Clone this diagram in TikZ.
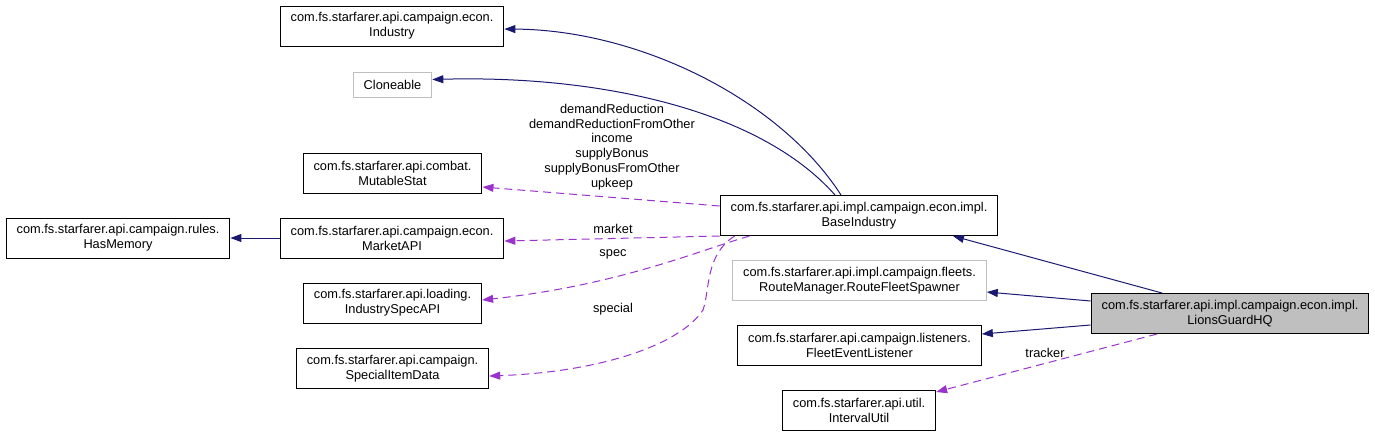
\documentclass[tikz,border=0pt]{standalone}
\usepackage{fontspec}
\setmainfont{Liberation Sans}
\usetikzlibrary{arrows.meta}
\definecolor{edgeblue}{HTML}{191970}
\definecolor{edgepurple}{HTML}{9A32CD}
\definecolor{nodegray}{HTML}{BFBFBF}
\begin{document}
\begin{tikzpicture}[x=1pt, y=-1pt, >={Triangle[length=11pt,width=8pt]},
    cls/.style={draw=black, line width=1pt, align=center, font=\fontsize{12.8}{15}\selectfont, inner xsep=10.5pt, inner ysep=2pt, minimum height=40pt},
    extcls/.style={cls, draw=nodegray},
    inherit/.style={->, draw=edgeblue, line width=1pt},
    usage/.style={->, draw=edgepurple, line width=1pt, dash pattern=on 8pt off 5pt},
    lbl/.style={align=center, font=\fontsize{12.8}{14.8}\selectfont, inner sep=0pt}]
\useasboundingbox (0,0) rectangle (1375,437);
\node[cls] (industry) at (392,26) {com.fs.starfarer.api.campaign.econ.\\Industry};
\node[extcls, minimum height=25pt] (cloneable) at (392.5,84.5) {Cloneable};
\node[cls] (mutable) at (392.5,173) {com.fs.starfarer.api.combat.\\MutableStat};
\node[cls] (memory) at (118,238) {com.fs.starfarer.api.campaign.rules.\\HasMemory};
\node[cls] (market) at (392,238) {com.fs.starfarer.api.campaign.econ.\\MarketAPI};
\node[cls] (specapi) at (392.5,303) {com.fs.starfarer.api.loading.\\IndustrySpecAPI};
\node[cls] (itemdata) at (392.5,368.5) {com.fs.starfarer.api.campaign.\\SpecialItemData};
\node[cls] (base) at (859,215.5) {com.fs.starfarer.api.impl.campaign.econ.impl.\\BaseIndustry};
\node[extcls] (spawner) at (859.5,280.5) {com.fs.starfarer.api.impl.campaign.fleets.\\RouteManager.RouteFleetSpawner};
\node[cls] (listener) at (859.5,345.5) {com.fs.starfarer.api.campaign.listeners.\\FleetEventListener};
\node[cls] (interval) at (859,410.5) {com.fs.starfarer.api.util.\\IntervalUtil};
\node[cls, fill=nodegray] (hq) at (1230,313.5) {com.fs.starfarer.api.impl.campaign.econ.impl.\\LionsGuardHQ};

\draw[inherit]([xshift=-18pt]base.north) .. controls (780,100) and (640,30) .. ([yshift=-3pt]industry.east);
\draw[inherit]([xshift=-24pt]base.north) .. controls (760,110) and (600,75) .. ([yshift=5pt]cloneable.east);
\draw[inherit](market.west)--(memory.east);
\draw[inherit]([xshift=-68pt]hq.north)--([xshift=94pt]base.south);
\draw[inherit]([yshift=12.5pt]hq.west)--([yshift=-11.5pt]spawner.east);
\draw[inherit]([yshift=-11.5pt]hq.west)--([yshift=11.5pt]listener.east);

\draw[usage]([yshift=9.5pt]base.west)--([yshift=-14pt]mutable.east);
\draw[usage](base.south west)--([yshift=-3pt]market.east);
\draw[usage]([xshift=30pt]base.south west) .. controls (700,250) and (620,285) .. ([yshift=3pt]specapi.east);
\draw[usage]([xshift=15pt]base.south west) .. controls (705,255) and (710,290) .. (703,310) .. controls (680,345) and (600,372) .. ([yshift=-7.5pt]itemdata.east);
\draw[usage]([xshift=-73pt]hq.south)--([yshift=-2pt]interval.north east);

\node[lbl] (fieldslbl) at (612,147) {demandReduction\\demandReductionFromOther\\income\\supplyBonus\\supplyBonusFromOther\\upkeep};
\node[lbl] (marketlbl) at (613,229) {market};
\node[lbl] (speclbl) at (613,254) {spec};
\node[lbl] (speciallbl) at (613,309) {special};
\node[lbl] (trackerlbl) at (1045,353) {tracker};
\end{tikzpicture}
\end{document}
